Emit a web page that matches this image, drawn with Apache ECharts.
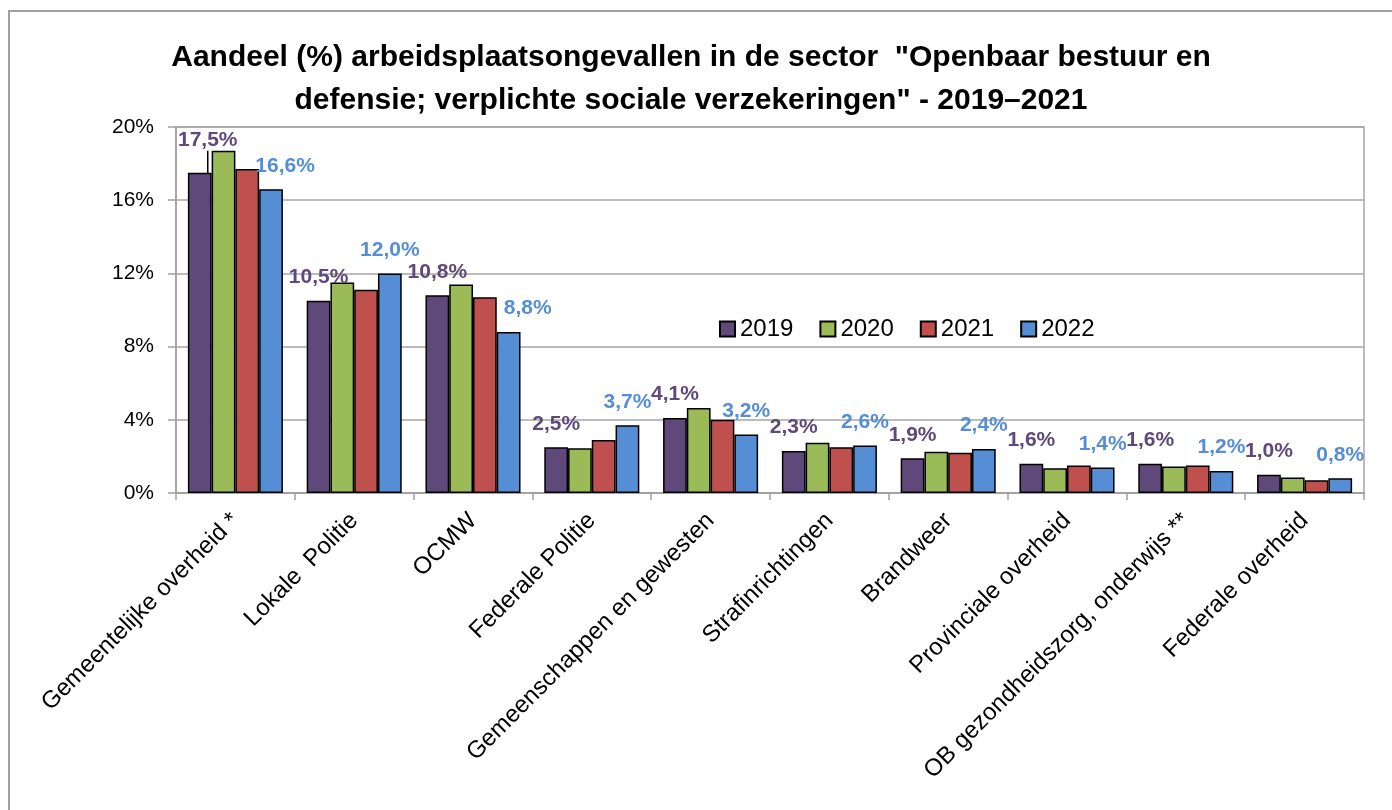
<!DOCTYPE html>
<html>
<head>
<meta charset="utf-8">
<script src="https://cdn.jsdelivr.net/npm/echarts@6/dist/echarts.min.js"></script>
<style>
html,body{margin:0;padding:0;background:#fff;}
#chart{width:1392px;height:810px;}
</style>
</head>
<body>
<div id="chart"></div>
<script>
const titleText = 'Aandeel (%) arbeidsplaatsongevallen in de sector  "Openbaar bestuur en\ndefensie; verplichte sociale verzekeringen" - 2019\u20132021';
const categories = ['Gemeentelijke overheid *', 'Lokale  Politie', 'OCMW', 'Federale Politie', 'Gemeenschappen en gewesten', 'Strafinrichtingen', 'Brandweer', 'Provinciale overheid', 'OB gezondheidszorg, onderwijs **', 'Federale overheid'];
const years = ['2019', '2020', '2021', '2022'];
const v2019 = [17.5, 10.5, 10.8, 2.5, 4.1, 2.3, 1.9, 1.6, 1.6, 1.0];
const v2020 = [18.7, 11.5, 11.4, 2.45, 4.65, 2.75, 2.25, 1.35, 1.45, 0.85];
const v2021 = [17.7, 11.1, 10.7, 2.9, 4.0, 2.5, 2.2, 1.5, 1.5, 0.7];
const v2022 = [16.6, 12.0, 8.8, 3.7, 3.2, 2.6, 2.4, 1.4, 1.2, 0.8];
const yTicks = {min: 0, max: 20, interval: 4};

const colors = ['#5F497A', '#9BBB59', '#C0504D', '#558ED5'];
const FONT = '"Liberation Sans", Arial, sans-serif';
const fmt = v => v.toFixed(1).replace('.', ',') + '%';

// label nudges (style only)
const nudges = {'2019': {0: {dx: 8, dy: -9}}, '2022': {0: {dx: 14, dy: 0}, 2: {dx: 19, dy: 0}}};

function mkSeries(name, values, color, labelled) {
  const data = values.map((v, i) => {
    if (name === '2019' && i === 0) {
      return {value: v, labelLine: {show: true, lineStyle: {color: '#000', width: 1.5}}};
    }
    return v;
  });
  return {
    name: name,
    type: 'bar',
    data: data,
    barGap: '0%',
    barCategoryGap: '20%',
    itemStyle: {color: color, borderColor: '#000', borderWidth: 1.5},
    label: {
      show: labelled,
      position: 'top',
      distance: 13,
      color: color,
      fontFamily: FONT,
      fontWeight: 'bold',
      fontSize: 21,
      formatter: p => fmt(p.value)
    },
    labelLine: {show: false},
    labelLayout: function (p) {
      const n = nudges[name] && nudges[name][p.dataIndex];
      return n ? {dx: n.dx, dy: n.dy} : {};
    },
    emphasis: {disabled: true},
    animation: false
  };
}

const chart = echarts.init(document.getElementById('chart'));
chart.setOption({
  animation: false,
  backgroundColor: '#fff',
  title: {
    text: titleText,
    left: 686,
    textAlign: 'center',
    top: 31,
    textStyle: {fontFamily: FONT, fontWeight: 'bold', fontSize: 30, lineHeight: 43, color: '#000'}
  },
  graphic: [{
    type: 'rect',
    shape: {x: 9, y: 11, width: 1420, height: 830},
    style: {fill: 'none', stroke: '#a0a0a0', lineWidth: 2},
    silent: true
  }],
  legend: {
    data: years,
    left: 714,
    top: 312,
    itemWidth: 15,
    itemHeight: 15,
    itemGap: 26,
    icon: 'rect',
    textStyle: {fontFamily: FONT, fontSize: 24, color: '#000'}
  },
  grid: {left: 176, right: 28, top: 127, bottom: 317, show: true, borderColor: '#a6a6a6', borderWidth: 1.5},
  xAxis: {
    type: 'category',
    data: categories,
    axisLine: {lineStyle: {color: '#a0a0a0', width: 1.5}},
    axisTick: {show: true, length: 7, lineStyle: {color: '#a0a0a0', width: 1.5}},
    axisLabel: {rotate: 45, margin: 24, interval: 0, color: '#000', fontFamily: FONT, fontSize: 24}
  },
  yAxis: {
    type: 'value',
    min: yTicks.min,
    max: yTicks.max,
    interval: yTicks.interval,
    axisLine: {show: true, lineStyle: {color: '#a0a0a0', width: 1.5}},
    axisTick: {show: true, length: 8, lineStyle: {color: '#a0a0a0', width: 1.5}},
    splitLine: {lineStyle: {color: '#a6a6a6', width: 1.5}},
    axisLabel: {formatter: '{value}%', margin: 22, color: '#000', fontFamily: FONT, fontSize: 21}
  },
  series: [
    mkSeries('2019', v2019, colors[0], true),
    mkSeries('2020', v2020, colors[1], false),
    mkSeries('2021', v2021, colors[2], false),
    mkSeries('2022', v2022, colors[3], true)
  ]
});
</script>
</body>
</html>
